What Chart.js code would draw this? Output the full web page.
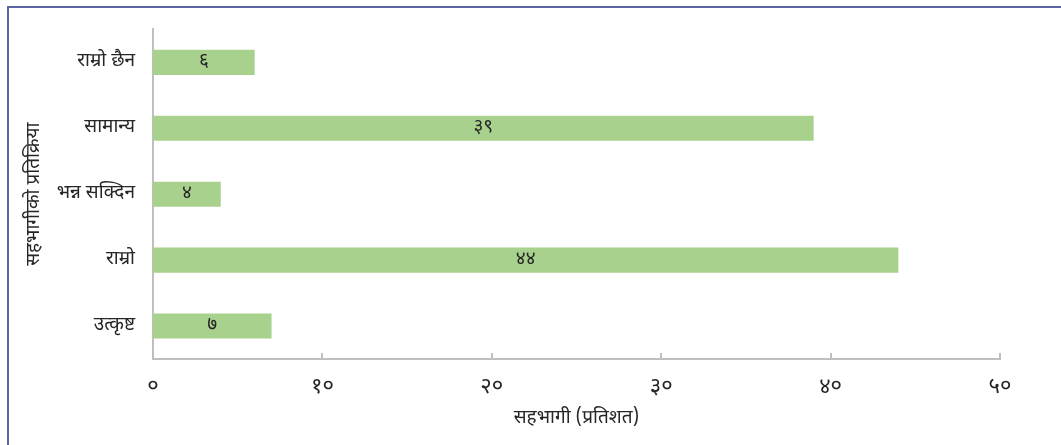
<!DOCTYPE html>
<html>
<head>
<meta charset="utf-8">
<script src="https://cdn.jsdelivr.net/npm/chart.js@4/dist/chart.umd.min.js"></script>
<style>
    html, body { margin: 0; padding: 0; background: #fff; overflow: hidden; }
    #wrap { position: relative; width: 1061px; height: 445px; }
    #frame {
        position: absolute; left: 7px; top: 6px; width: 1100px; height: 500px;
        border-left: 2px solid #5b66a3; border-top: 2px solid #5b66a3;
        box-sizing: border-box; pointer-events: none;
    }
    canvas { position: absolute; left: 0; top: 0; }
</style>
</head>
<body>
<div id="wrap">
    <canvas id="chart" width="1061" height="445"></canvas>
    <div id="frame"></div>
</div>
<script>
const categories = ['राम्रो छैन', 'सामान्य', 'भन्न सक्दिन', 'राम्रो', 'उत्कृष्ट'];
const shares = [6, 39, 4, 44, 7];
const xTicks = [0, 10, 20, 30, 40, 50];
const xTitle = 'सहभागी (प्रतिशत)';
const yTitle = 'सहभागीको प्रतिक्रिया';

const FONT = "'Noto Sans Devanagari', 'Lohit Devanagari', 'Noto Sans', sans-serif";
const devDigits = '०१२३४५६७८९';
const toDev = n => String(n).replace(/[0-9]/g, d => devDigits[d]);

// value written in the middle of each bar
const barLabels = {
    id: 'barLabels',
    afterDatasetsDraw(chart) {
        const ctx = chart.ctx;
        const meta = chart.getDatasetMeta(0);
        ctx.save();
        ctx.font = '19px ' + FONT;
        ctx.fillStyle = '#262626';
        ctx.textAlign = 'center';
        ctx.textBaseline = 'middle';
        meta.data.forEach((bar, i) => {
            const v = chart.data.datasets[0].data[i];
            ctx.fillText(toDev(v), (bar.x + bar.base) / 2, bar.y);
        });
        ctx.restore();
    }
};

// small tick marks standing up from the x axis
const innerTicks = {
    id: 'innerTicks',
    afterDraw(chart) {
        const ctx = chart.ctx;
        const sx = chart.scales.x;
        const y0 = chart.chartArea.bottom;
        ctx.save();
        ctx.strokeStyle = '#bfbfbf';
        ctx.lineWidth = 2;
        xTicks.slice(1).forEach(t => {
            const x = Math.round(sx.getPixelForValue(t));
            ctx.beginPath();
            ctx.moveTo(x, y0);
            ctx.lineTo(x, y0 - 6);
            ctx.stroke();
        });
        ctx.restore();
    }
};

new Chart(document.getElementById('chart'), {
    type: 'bar',
    data: {
        labels: categories,
        datasets: [{
            data: shares,
            backgroundColor: '#a9d18e',
            borderWidth: 0,
            categoryPercentage: 1,
            barPercentage: 0.38
        }]
    },
    options: {
        indexAxis: 'y',
        responsive: false,
        animation: false,
        layout: { padding: { top: 29, right: 61, bottom: 0, left: 24 } },
        plugins: {
            legend: { display: false },
            tooltip: { enabled: false }
        },
        scales: {
            x: {
                min: 0,
                max: 50,
                afterBuildTicks: s => { s.ticks = xTicks.map(v => ({ value: v })); },
                afterFit: s => { s.height = 86; },
                grid: { display: false, drawTicks: false },
                border: { display: true, color: '#bfbfbf', width: 2 },
                ticks: {
                    padding: 17,
                    color: '#262626',
                    font: { family: FONT, size: 22 },
                    callback: v => toDev(v)
                },
                title: {
                    display: true,
                    text: xTitle,
                    color: '#262626',
                    font: { family: FONT, size: 19 },
                    padding: { top: 0, bottom: 14 }
                }
            },
            y: {
                afterFit: s => { s.width = 129; },
                grid: { display: false, drawTicks: false },
                border: { display: true, color: '#bfbfbf', width: 2 },
                ticks: {
                    padding: 18,
                    color: '#262626',
                    font: { family: FONT, size: 19 }
                },
                title: {
                    display: true,
                    text: yTitle,
                    color: '#262626',
                    font: { family: FONT, size: 19 },
                    padding: { top: 0, bottom: 0 }
                }
            }
        }
    },
    plugins: [barLabels, innerTicks]
});
</script>
</body>
</html>
